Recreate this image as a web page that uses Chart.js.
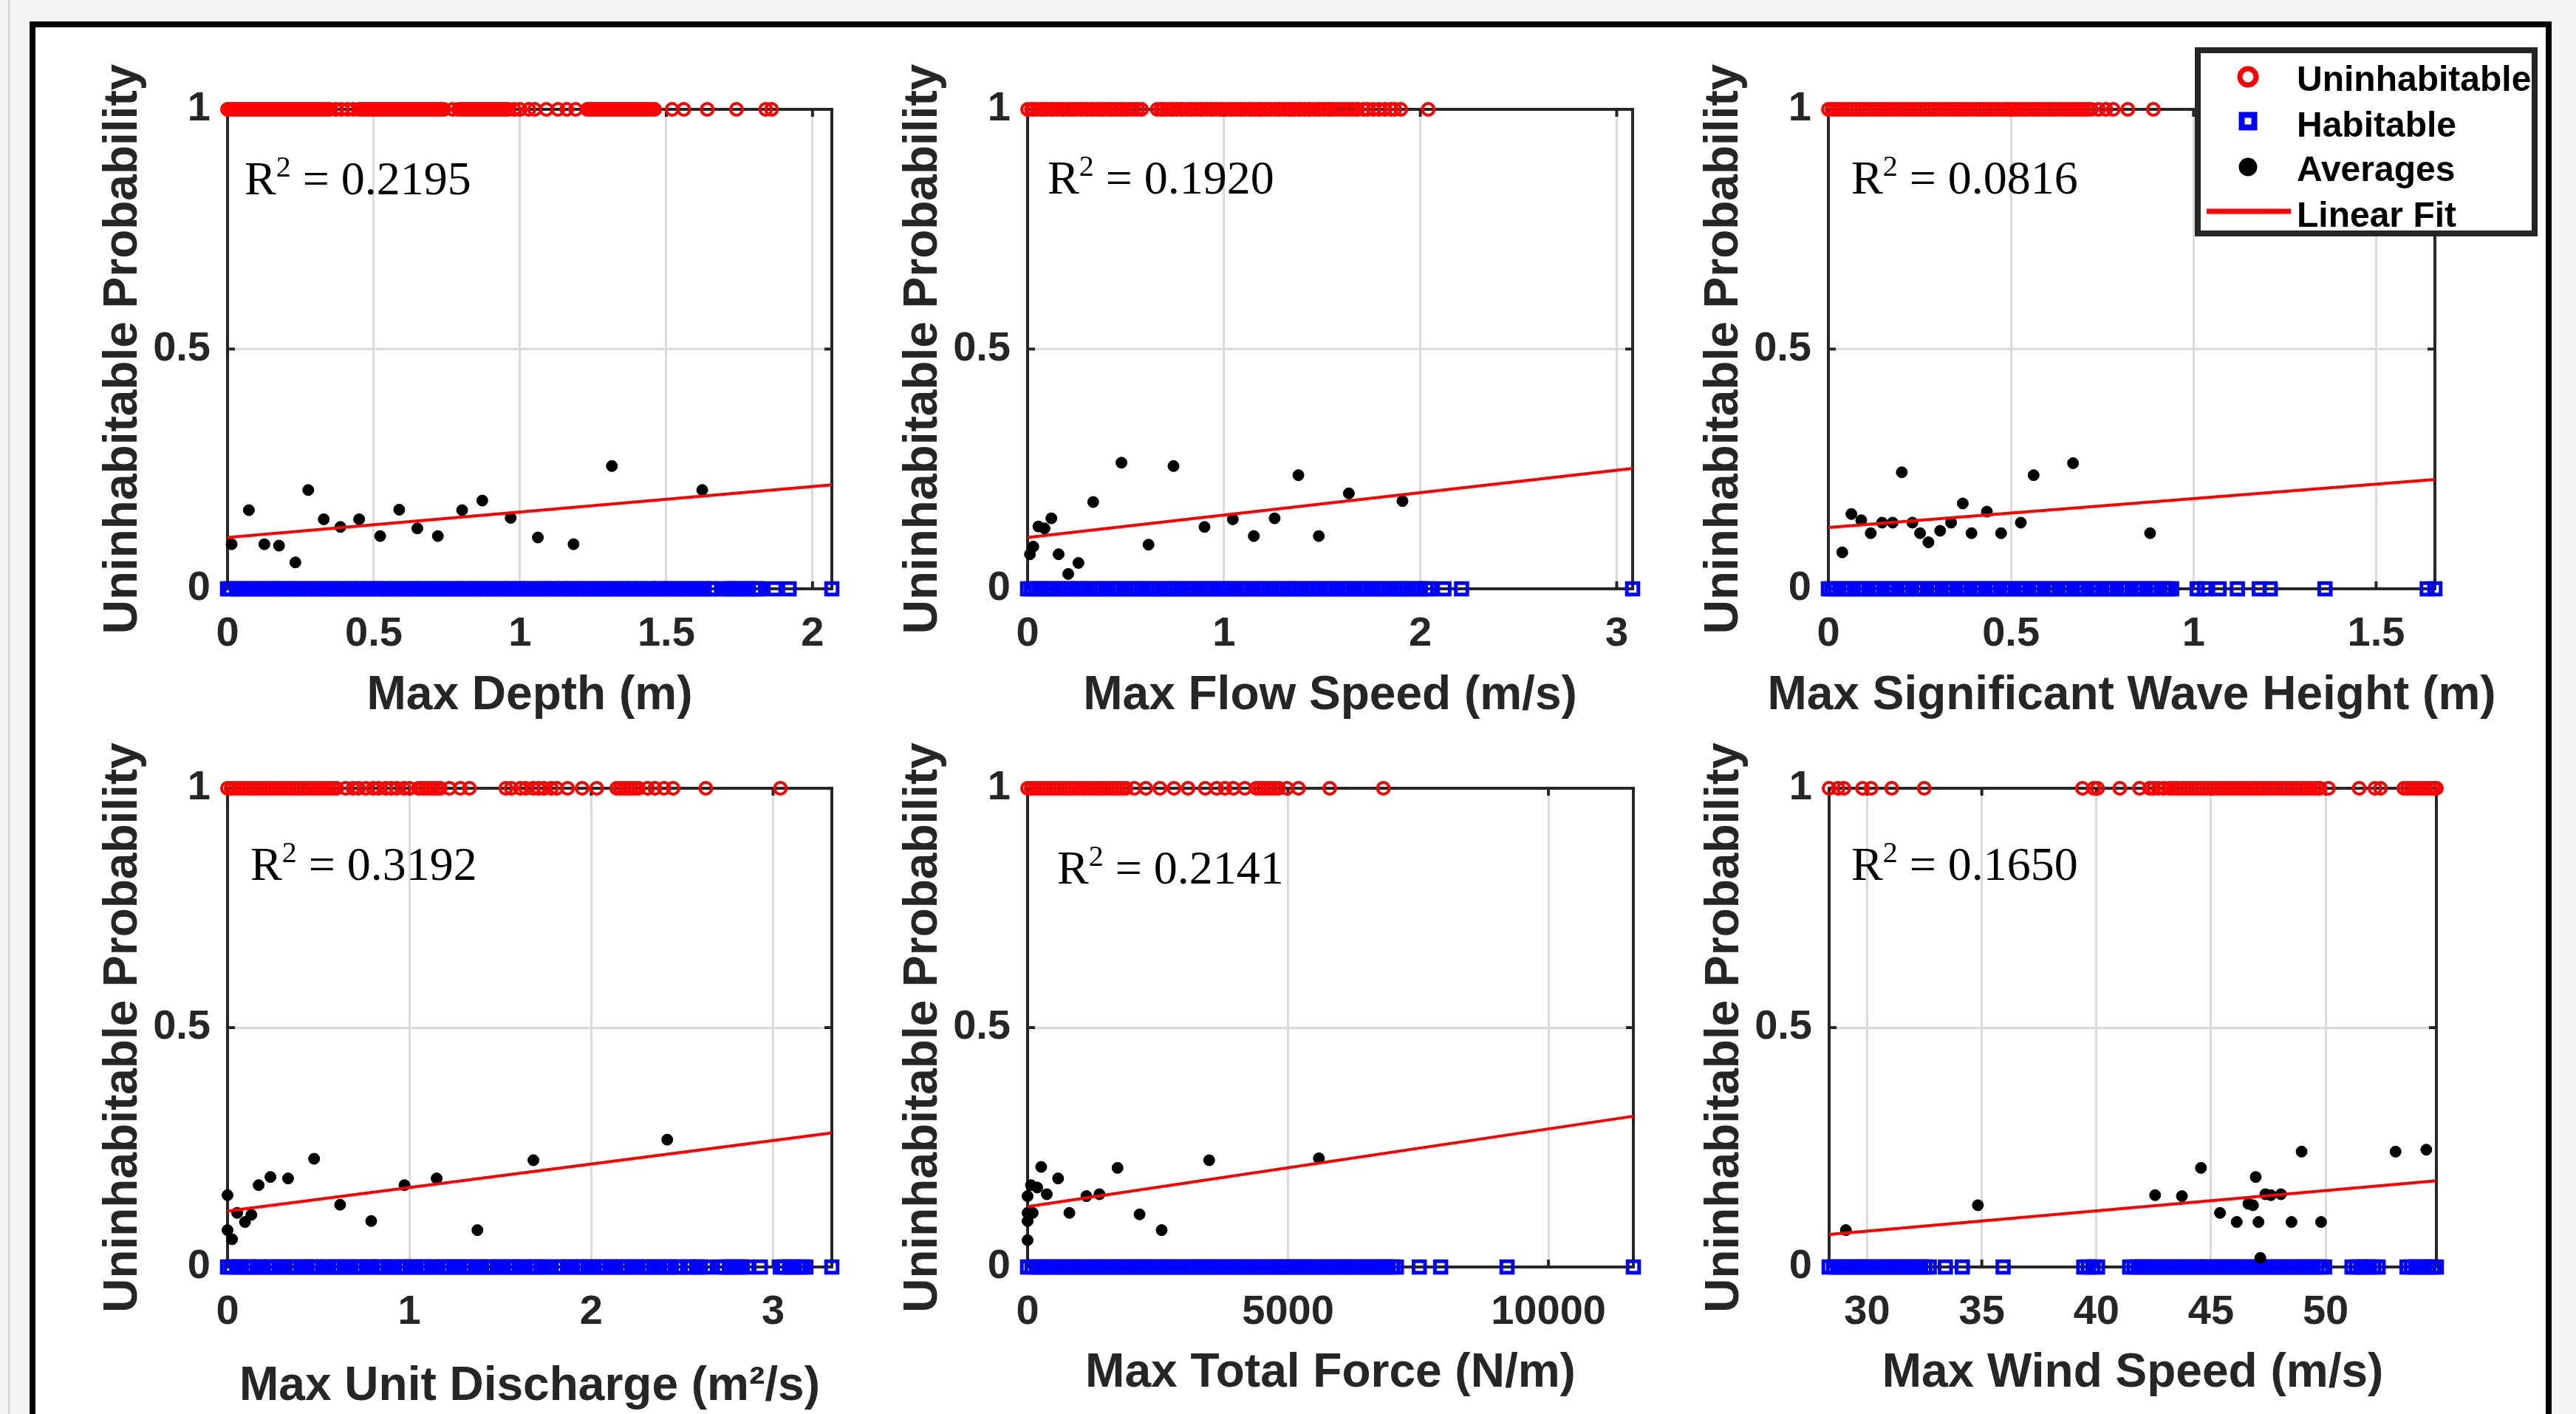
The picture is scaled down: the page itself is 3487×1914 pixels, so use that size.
<!DOCTYPE html>
<html>
<head>
<meta charset="utf-8">
<title>Uninhabitable Probability vs hazard intensity</title>
<script src="https://cdn.jsdelivr.net/npm/chart.js"></script>
<style>
    html, body {
        margin: 0;
        padding: 0;
        width: 3487px;
        height: 1914px;
        overflow: hidden;
        background: #f4f4f4;
    }
    .edge {
        position: absolute;
        left: 11px;
        top: 0;
        width: 3px;
        height: 1914px;
        background: #d8d8d8;
    }
    .frame {
        position: absolute;
        left: 40px;
        top: 29px;
        width: 3414px;
        height: 1960px;
        box-sizing: border-box;
        border: 8px solid #000;
        background: #fff;
    }
    .panel {
        position: absolute;
    }
</style>
</head>
<body>
<div class="edge"></div>
<div class="frame"></div>
<div class="panel" id="p1"><canvas id="c1"></canvas></div>
<div class="panel" id="p2"><canvas id="c2"></canvas></div>
<div class="panel" id="p3"><canvas id="c3"></canvas></div>
<div class="panel" id="p4"><canvas id="c4"></canvas></div>
<div class="panel" id="p5"><canvas id="c5"></canvas></div>
<div class="panel" id="p6"><canvas id="c6"></canvas></div>

<script>
// ---- Panel 1: Max Depth (m) ----
const depthUninhab = [0,.01,.02,.03,.04,.05,.06,.07,.08,.09,.1,.11,.12,.13,.14,.15,.16,.17,.18,.19,.2,.21,.22,.23,.24,.25,
    .26,.27,.28,.29,.3,.31,.32,.33,.34,.35,.37,.39,.41,.43,.45,
    .46,.47,.48,.49,.5,.51,.52,.53,.54,.55,.56,.57,.58,.59,.6,.61,.62,.63,.64,.65,.66,.67,.68,.69,.7,.71,.72,.73,.74,
    .77,.79,.8,.81,.82,.83,.84,.85,.86,.87,.88,.89,.9,.91,.92,.93,.94,.95,.96,
    .98,1,1.03,1.05,1.09,1.13,1.16,1.19,
    1.23,1.24,1.25,1.26,1.27,1.28,1.29,1.3,1.31,1.32,1.33,1.34,1.35,1.36,1.37,1.38,1.39,1.4,1.41,1.42,1.43,1.44,1.45,1.46,
    1.52,1.56,1.64,1.74,1.84,1.86];
const depthHab = [0,.01,.03,.04,.06,.07,.09,.1,.12,.13,.15,.16,.18,.19,.21,.22,.24,.25,.27,.28,.3,.31,.33,.34,.36,.37,.39,.4,
    .42,.43,.45,.46,.48,.49,.51,.52,.54,.55,.57,.58,.6,.61,.63,.64,.66,.67,.69,.7,.72,.73,.75,.76,.78,.79,.81,.82,
    .84,.85,.87,.88,.9,.91,.93,.94,.96,.97,.99,1,1.02,1.03,1.05,1.06,1.08,1.09,1.11,1.12,1.14,1.15,1.17,1.18,1.2,
    1.21,1.23,1.24,1.26,1.27,1.29,1.3,1.32,1.33,1.35,1.36,1.38,1.39,1.41,1.42,1.44,1.45,1.47,1.48,1.5,1.51,1.53,
    1.54,1.56,1.57,1.59,1.6,1.62,1.63,1.65,1.66,1.69,1.71,1.72,1.74,1.75,1.77,1.78,1.8,1.81,1.82,1.87,1.92,2.066];
const depthAvgX = [0.014,0.073,0.126,0.176,0.232,0.276,0.329,0.386,0.45,0.522,0.587,0.649,0.719,0.802,0.871,0.968,1.061,1.183,1.314,1.623];
const depthAvgY = [0.093,0.164,0.093,0.09,0.055,0.206,0.145,0.129,0.145,0.11,0.165,0.126,0.11,0.164,0.184,0.148,0.107,0.093,0.256,0.206];
const depthFit = [0.107, 0.217];
const depthRange = [0, 2.066];
const depthTicks = [0, 0.5, 1, 1.5, 2];

// ---- Panel 2: Max Flow Speed (m/s) ----
const flowUninhab = [0,.02,.03,.05,.07,.08,.1,.12,.13,.15,.17,.18,.2,.22,.23,.25,.27,.28,.3,.32,.33,.35,.37,.38,.4,.42,.43,
    .45,.47,.48,.5,.52,.54,.56,.58,.66,.68,.69,.71,.73,.74,.76,.78,.79,.81,.83,.84,.86,.88,.89,.91,.93,.94,.96,.98,.99,
    1.01,1.03,1.04,1.06,1.08,1.09,1.11,1.13,1.14,1.16,1.18,1.19,1.21,1.23,1.24,1.26,1.28,1.29,1.31,1.33,1.34,1.36,
    1.38,1.39,1.41,1.43,1.44,1.46,1.48,1.49,1.51,1.53,1.54,1.56,1.58,1.6,1.62,1.64,1.66,1.68,1.71,1.73,1.76,1.79,
    1.82,1.85,1.87,1.9,2.04];
const flowHab = [0,.02,.04,.07,.09,.11,.13,.16,.18,.2,.22,.25,.27,.29,.31,.34,.36,.38,.4,.43,.45,.47,.49,.52,.54,.56,.58,.61,
    .63,.65,.67,.7,.72,.74,.76,.79,.81,.83,.85,.88,.9,.92,.94,.97,.99,1.01,1.03,1.06,1.08,1.1,1.12,1.15,1.17,1.19,1.21,
    1.24,1.26,1.28,1.3,1.33,1.35,1.37,1.39,1.42,1.44,1.46,1.48,1.51,1.53,1.55,1.57,1.6,1.62,1.64,1.66,1.69,1.71,1.73,
    1.75,1.78,1.8,1.82,1.84,1.87,1.89,1.91,1.93,1.96,1.98,2,2.03,2.05,2.12,2.21,3.081];
const flowAvgX = [0.012,0.029,0.055,0.086,0.121,0.158,0.207,0.259,0.334,0.478,0.616,0.743,0.901,1.045,1.152,1.258,1.379,1.483,1.636,1.909];
const flowAvgY = [0.072,0.088,0.13,0.126,0.147,0.072,0.031,0.054,0.181,0.263,0.092,0.256,0.129,0.145,0.11,0.147,0.237,0.11,0.199,0.183];
const flowFit = [0.107, 0.251];
const flowRange = [0, 3.081];
const flowTicks = [0, 1, 2, 3];

// ---- Panel 3: Max Significant Wave Height (m) ----
const waveUninhab = [0,.01,.02,.03,.04,.05,.06,.07,.08,.09,.1,.11,.12,.13,.14,.15,.16,.17,.18,.19,.2,.21,.22,.23,.24,.25,
    .26,.27,.28,.29,.3,.31,.32,.33,.34,.35,.36,.37,.38,.39,.4,.41,.42,.43,.44,.45,.46,.47,.48,.49,.5,.51,.52,.53,.54,
    .55,.56,.57,.58,.59,.6,.61,.62,.63,.64,.65,.66,.67,.68,.69,.7,.71,.72,.74,.76,.78,.82,.89];
const waveHab = [0,.01,.02,.04,.05,.06,.08,.09,.1,.12,.13,.14,.16,.17,.18,.2,.21,.22,.24,.25,.26,.28,.29,.3,.32,.33,.34,
    .36,.37,.38,.4,.41,.42,.44,.45,.46,.48,.49,.5,.52,.53,.54,.56,.57,.58,.6,.61,.62,.64,.65,.66,.68,.69,.7,.72,.73,
    .74,.76,.77,.78,.8,.81,.82,.84,.85,.86,.88,.89,.9,.92,.93,.94,1.01,1.03,1.07,1.12,1.18,1.21,1.36,1.64,1.661];
const waveAvgX = [0.038,0.063,0.09,0.116,0.147,0.176,0.201,0.23,0.251,0.274,0.306,0.336,0.368,0.392,0.434,0.473,0.527,0.562,0.67,0.881];
const waveAvgY = [0.076,0.156,0.143,0.116,0.138,0.138,0.243,0.138,0.116,0.097,0.121,0.138,0.178,0.116,0.161,0.116,0.138,0.237,0.262,0.116];
const waveFit = [0.128, 0.228];
const waveRange = [0, 1.661];
const waveTicks = [0, 0.5, 1, 1.5];

// ---- Panel 4: Max Unit Discharge (m2/s) ----
const dischUninhab = [0,.02,.04,.06,.08,.1,.12,.14,.16,.18,.2,.22,.24,.26,.28,.3,.32,.34,.36,.38,.4,.42,.44,.46,.48,.5,.52,
    .54,.56,.58,.6,.65,.69,.72,.76,.8,.83,.87,.9,.93,.97,1,1.05,1.07,1.09,1.11,1.13,1.15,1.17,1.22,1.28,1.33,
    1.53,1.56,1.61,1.64,1.68,1.71,1.74,1.78,1.81,1.87,1.95,2.03,2.14,2.16,2.18,2.2,2.22,2.24,2.26,
    2.31,2.35,2.4,2.45,2.63,3.04];
const dischHab = [0,.02,.05,.07,.1,.12,.14,.17,.19,.22,.24,.26,.29,.31,.34,.36,.38,.41,.43,.46,.48,.5,.53,.55,.58,.6,.62,.65,
    .67,.7,.72,.74,.77,.79,.82,.84,.86,.89,.91,.94,.96,.98,1.01,1.03,1.06,1.08,1.1,1.13,1.15,1.18,1.2,1.22,1.25,1.27,
    1.3,1.32,1.34,1.37,1.39,1.42,1.44,1.46,1.49,1.51,1.54,1.56,1.58,1.61,1.63,1.66,1.68,1.7,1.73,1.75,1.78,
    1.82,1.84,1.87,1.89,1.92,1.94,1.96,1.99,2.01,2.04,2.06,2.08,2.11,2.13,2.16,2.18,2.2,2.23,2.25,2.28,2.3,2.32,
    2.35,2.37,2.4,2.42,2.44,2.47,2.49,2.53,2.55,2.58,2.6,2.63,2.71,2.73,2.76,2.78,2.81,2.83,2.86,2.93,
    3.04,3.06,3.09,3.11,3.14,3.16,3.18,3.323];
const dischAvgX = [0,0,0.025,0.053,0.096,0.131,0.171,0.236,0.333,0.476,0.619,0.79,0.973,1.15,1.374,1.682,2.418];
const dischAvgY = [0.15,0.077,0.058,0.113,0.094,0.109,0.171,0.188,0.185,0.226,0.13,0.096,0.171,0.185,0.077,0.223,0.266];
const dischFit = [0.117, 0.28];
const dischRange = [0, 3.323];
const dischTicks = [0, 1, 2, 3];

// ---- Panel 5: Max Total Force (N/m) ----
const forceUninhab = [0,70,140,210,280,350,420,490,560,630,700,770,840,910,980,1050,1120,1190,1260,1330,1400,1470,1540,
    1610,1680,1750,1820,1890,2050,2270,2540,2810,3080,3410,3630,3790,3950,4170,4390,4460,4530,4600,4670,4740,4820,
    4980,5200,5800,6830];
const forceHab = [0,85,170,255,340,425,510,595,680,765,850,935,1020,1105,1190,1275,1360,1445,1530,1615,1700,1785,1870,
    1955,2040,2125,2210,2295,2380,2465,2550,2635,2720,2805,2890,2975,3060,3145,3230,3315,3400,3485,3570,3655,3740,
    3825,3910,3995,4080,4165,4250,4335,4420,4505,4590,4675,4760,4845,4930,4965,5050,5135,5220,5305,5390,5475,5560,
    5645,5730,5815,5900,5985,6070,6155,6240,6325,6410,6495,6580,6665,6750,6835,6920,7005,7080,7520,7930,9205,11630];
const forceAvgX = [0,0,0,0,65,98,185,261,369,586,803,1129,1379,1727,2150,2574,3486,5593];
const forceAvgY = [0.056,0.096,0.113,0.148,0.171,0.113,0.166,0.209,0.152,0.185,0.113,0.148,0.152,0.207,0.11,0.077,0.223,0.227];
const forceFit = [0.126, 0.315];
const forceRange = [0, 11630];
const forceTicks = [0, 5000, 10000];

// ---- Panel 6: Max Wind Speed (m/s) ----
const windUninhab = [28.34,28.73,28.98,29.8,30.17,31.07,32.49,39.39,39.88,40.05,41.02,41.88,42.32,42.5,42.7,42.93,
    43.17,43.33,43.5,43.66,43.82,43.98,44.15,44.31,44.47,44.63,44.8,44.96,45.12,45.28,45.45,45.61,45.77,45.93,46.1,
    46.26,46.42,46.58,46.75,46.91,47.07,47.23,47.4,47.56,47.72,47.88,48.05,48.21,48.37,48.53,48.7,48.86,49.02,49.18,
    49.35,49.51,49.67,49.76,50.12,51.46,52.15,52.39,53.41,53.57,53.73,53.9,54.06,54.22,54.38,54.55,54.71,54.83];
const windHab = [28.34,28.53,28.72,28.91,29.1,29.29,29.48,29.67,29.86,30.05,30.24,30.43,30.62,30.81,31,31.19,31.38,31.57,
    31.76,31.95,32.14,32.33,32.52,32.71,33.41,34.15,35.93,39.45,39.65,39.85,40.05,
    41.45,41.64,41.83,42.02,42.21,42.4,42.59,42.78,42.97,43.16,43.35,43.54,43.73,43.92,44.11,44.3,44.49,44.68,44.87,
    45.06,45.25,45.44,45.63,45.82,46.01,46.2,46.39,46.58,46.77,46.96,47.15,47.34,47.53,47.72,47.91,48.1,48.29,48.48,
    48.67,48.86,49.05,49.24,49.43,49.62,49.81,49.95,51.15,51.34,51.53,51.72,51.91,52.1,52.29,
    53.55,53.74,53.93,54.12,54.31,54.5,54.69,54.83];
const windAvgX = [29.07,34.83,42.56,43.73,44.56,45.39,46.12,46.63,46.83,46.95,47.07,47.15,47.37,47.61,48.05,48.51,48.95,49.8,53.05,54.39];
const windAvgY = [0.077,0.129,0.15,0.148,0.207,0.113,0.094,0.132,0.129,0.188,0.094,0.019,0.152,0.15,0.152,0.094,0.241,0.094,0.241,0.245];
const windFit = [0.068, 0.18];
const windRange = [28.34, 54.83];
const windTicks = [30, 35, 40, 45, 50];

// Shared
const yTicks = [0, 0.5, 1];
const rSquared = ['0.2195', '0.1920', '0.0816', '0.3192', '0.2141', '0.1650'];
const xTitles = ['Max Depth (m)', 'Max Flow Speed (m/s)', 'Max Significant Wave Height (m)',
    'Max Unit Discharge (m\u00b2/s)', 'Max Total Force (N/m)', 'Max Wind Speed (m/s)'];
const yTitle = 'Uninhabitable Probability';
const legendLabels = ['Uninhabitable', 'Habitable', 'Averages', 'Linear Fit'];

const panels = [
    { un: depthUninhab, hab: depthHab, ax: depthAvgX, ay: depthAvgY, fit: depthFit, range: depthRange, ticks: depthTicks },
    { un: flowUninhab, hab: flowHab, ax: flowAvgX, ay: flowAvgY, fit: flowFit, range: flowRange, ticks: flowTicks },
    { un: waveUninhab, hab: waveHab, ax: waveAvgX, ay: waveAvgY, fit: waveFit, range: waveRange, ticks: waveTicks },
    { un: dischUninhab, hab: dischHab, ax: dischAvgX, ay: dischAvgY, fit: dischFit, range: dischRange, ticks: dischTicks },
    { un: forceUninhab, hab: forceHab, ax: forceAvgX, ay: forceAvgY, fit: forceFit, range: forceRange, ticks: forceTicks },
    { un: windUninhab, hab: windHab, ax: windAvgX, ay: windAvgY, fit: windFit, range: windRange, ticks: windTicks }
];

// Plot-area placement on the page, and text offsets inside/around each plot
const layout = [
    { left: 308, top: 148, width: 818, height: 649, r2x: 23, r2y: 115, xTitleY: 140 },
    { left: 1391, top: 148, width: 819, height: 649, r2x: 27, r2y: 114, xTitleY: 140 },
    { left: 2475, top: 148, width: 821, height: 649, r2x: 31, r2y: 114, xTitleY: 140 },
    { left: 308, top: 1067, width: 818, height: 648, r2x: 31, r2y: 124, xTitleY: 157 },
    { left: 1391, top: 1067, width: 820, height: 648, r2x: 40, r2y: 129, xTitleY: 139 },
    { left: 2476, top: 1067, width: 822, height: 648, r2x: 30, r2y: 124, xTitleY: 139 }
];

const PAD_LEFT = 200, PAD_TOP = 100, PAD_RIGHT = 170, PAD_BOTTOM = 220;
const SANS = "'Liberation Sans', Arial, Helvetica, sans-serif";
const SERIF = "'Liberation Serif', 'Times New Roman', serif";
const AXIS_COLOR = '#262626';
const GRID_COLOR = '#dadada';

// Axes box with inward tick marks (MATLAB style)
const boxPlugin = {
    id: 'axesBox',
    beforeDatasetsDraw(chart) {
        const { ctx, chartArea: a, scales } = chart;
        ctx.save();
        ctx.strokeStyle = AXIS_COLOR;
        ctx.lineWidth = 4;
        ctx.strokeRect(a.left, a.top, a.right - a.left, a.bottom - a.top);
        ctx.beginPath();
        scales.x.ticks.forEach(t => {
            const px = scales.x.getPixelForValue(t.value);
            ctx.moveTo(px, a.bottom); ctx.lineTo(px, a.bottom - 10);
            ctx.moveTo(px, a.top); ctx.lineTo(px, a.top + 10);
        });
        scales.y.ticks.forEach(t => {
            const py = scales.y.getPixelForValue(t.value);
            ctx.moveTo(a.left, py); ctx.lineTo(a.left + 10, py);
            ctx.moveTo(a.right, py); ctx.lineTo(a.right - 10, py);
        });
        ctx.stroke();
        ctx.restore();
    }
};

// Axis titles, drawn free of the scale width so long labels are not squeezed
const titlePlugin = {
    id: 'axisTitles',
    afterDraw(chart, args, opts) {
        const { ctx, chartArea: a } = chart;
        ctx.save();
        ctx.fillStyle = AXIS_COLOR;
        ctx.font = 'bold 64px ' + SANS;
        ctx.textAlign = 'center';
        ctx.textBaseline = 'alphabetic';
        // cap centre sits ~0.358em above the baseline
        ctx.fillText(opts.xText, (a.left + a.right) / 2, a.bottom + opts.xOffset + 23);
        ctx.translate(a.left - 146 + 23, (a.top + a.bottom) / 2);
        ctx.rotate(-Math.PI / 2);
        ctx.fillText(opts.yText, 0, 0);
        ctx.restore();
    }
};

// R^2 annotation
const rsqPlugin = {
    id: 'rsq',
    afterDatasetsDraw(chart, args, opts) {
        const { ctx, chartArea: a } = chart;
        let x = a.left + opts.dx;
        const y = a.top + opts.dy;
        ctx.save();
        ctx.fillStyle = '#000';
        ctx.textBaseline = 'alphabetic';
        ctx.textAlign = 'left';
        ctx.font = '64px ' + SERIF;
        ctx.fillText('R', x, y);
        x += ctx.measureText('R').width;
        ctx.font = '40px ' + SERIF;
        ctx.fillText('2', x, y - 24);
        x += ctx.measureText('2').width;
        ctx.font = '64px ' + SERIF;
        ctx.fillText(' = ' + opts.value, x, y);
        ctx.restore();
    }
};

// Legend box drawn over the top-right of panel 3
const legendPlugin = {
    id: 'boxLegend',
    afterDraw(chart) {
        const { ctx, chartArea: a } = chart;
        const r = a.right, t = a.top;
        ctx.save();
        ctx.fillStyle = '#fff';
        ctx.fillRect(r - 325, t - 84, 464, 256);
        ctx.strokeStyle = AXIS_COLOR;
        ctx.lineWidth = 8;
        ctx.strokeRect(r - 321, t - 80, 456, 248);

        const mx = r - 253;
        ctx.strokeStyle = '#ff0000';
        ctx.lineWidth = 7;
        ctx.beginPath();
        ctx.arc(mx, t - 44, 11, 0, Math.PI * 2);
        ctx.stroke();

        ctx.strokeStyle = '#0000ff';
        ctx.lineWidth = 8;
        ctx.strokeRect(mx - 8.5, t + 16 - 8.5, 17, 17);

        ctx.fillStyle = '#000';
        ctx.beginPath();
        ctx.arc(mx, t + 78, 12.5, 0, Math.PI * 2);
        ctx.fill();

        ctx.strokeStyle = '#ff0000';
        ctx.lineWidth = 7;
        ctx.beginPath();
        ctx.moveTo(r - 309, t + 138);
        ctx.lineTo(r - 195, t + 138);
        ctx.stroke();

        ctx.fillStyle = '#000';
        ctx.font = 'bold 48px ' + SANS;
        ctx.textBaseline = 'alphabetic';
        ctx.textAlign = 'left';
        const baselines = [-25, 37, 97, 159];
        legendLabels.forEach((txt, i) => ctx.fillText(txt, r - 187, t + baselines[i]));
        ctx.restore();
    }
};

function buildChart(i) {
    const p = panels[i];
    const L = layout[i];
    const w = L.width + PAD_LEFT + PAD_RIGHT;
    const h = L.height + PAD_TOP + PAD_BOTTOM;
    const holder = document.getElementById('p' + (i + 1));
    holder.style.left = (L.left - PAD_LEFT) + 'px';
    holder.style.top = (L.top - PAD_TOP) + 'px';
    holder.style.width = w + 'px';
    holder.style.height = h + 'px';
    const canvas = document.getElementById('c' + (i + 1));
    canvas.width = w;
    canvas.height = h;
    canvas.style.width = w + 'px';
    canvas.style.height = h + 'px';

    const tickFont = { family: SANS, size: 56, weight: 'bold' };

    const plugins = [boxPlugin, rsqPlugin, titlePlugin];
    if (i === 2) plugins.push(legendPlugin);

    new Chart(canvas.getContext('2d'), {
        type: 'scatter',
        data: {
            datasets: [
                {
                    label: 'Linear Fit',
                    data: [{ x: p.range[0], y: p.fit[0] }, { x: p.range[1], y: p.fit[1] }],
                    showLine: true,
                    borderColor: '#ff0000',
                    borderWidth: 4,
                    pointRadius: 0,
                    clip: false,
                    order: 0
                },
                {
                    label: 'Averages',
                    data: p.ax.map((x, k) => ({ x: x, y: p.ay[k] })),
                    pointStyle: 'circle',
                    pointRadius: 7.5,
                    backgroundColor: '#000',
                    borderColor: '#000',
                    borderWidth: 1,
                    clip: false,
                    order: 1
                },
                {
                    label: 'Habitable',
                    data: p.hab.map(x => ({ x: x, y: 0 })),
                    pointStyle: 'rect',
                    pointRadius: 11,
                    backgroundColor: 'rgba(0,0,0,0)',
                    borderColor: '#0000ff',
                    borderWidth: 5,
                    clip: false,
                    order: 2
                },
                {
                    label: 'Uninhabitable',
                    data: p.un.map(x => ({ x: x, y: 1 })),
                    pointStyle: 'circle',
                    pointRadius: 8,
                    backgroundColor: 'rgba(0,0,0,0)',
                    borderColor: '#ff0000',
                    borderWidth: 4,
                    clip: false,
                    order: 3
                }
            ]
        },
        options: {
            responsive: false,
            animation: false,
            events: [],
            layout: { padding: { left: 0, top: PAD_TOP, right: PAD_RIGHT, bottom: 0 } },
            scales: {
                x: {
                    type: 'linear',
                    min: p.range[0],
                    max: p.range[1],
                    afterBuildTicks: s => { s.ticks = p.ticks.map(v => ({ value: v })); },
                    afterFit: s => { s.height = PAD_BOTTOM; },
                    ticks: {
                        autoSkip: false,
                        maxRotation: 0,
                        padding: 28,
                        color: AXIS_COLOR,
                        font: tickFont,
                        callback: v => String(v)
                    },
                    grid: { color: GRID_COLOR, lineWidth: 3, drawTicks: false },
                    border: { display: false },
                    title: { display: false }
                },
                y: {
                    type: 'linear',
                    min: 0,
                    max: 1,
                    afterBuildTicks: s => { s.ticks = yTicks.map(v => ({ value: v })); },
                    afterFit: s => { s.width = PAD_LEFT; },
                    ticks: {
                        autoSkip: false,
                        padding: 23,
                        color: AXIS_COLOR,
                        font: tickFont,
                        callback: v => String(v)
                    },
                    grid: { color: GRID_COLOR, lineWidth: 3, drawTicks: false },
                    border: { display: false },
                    title: { display: false }
                }
            },
            plugins: {
                legend: { display: false },
                tooltip: { enabled: false },
                rsq: { value: rSquared[i], dx: L.r2x, dy: L.r2y },
                axisTitles: { xText: xTitles[i], yText: yTitle, xOffset: L.xTitleY }
            }
        },
        plugins: plugins
    });
}

document.addEventListener('DOMContentLoaded', () => {
    for (let i = 0; i < panels.length; i++) {
        buildChart(i);
    }
});
</script>
</body>
</html>
